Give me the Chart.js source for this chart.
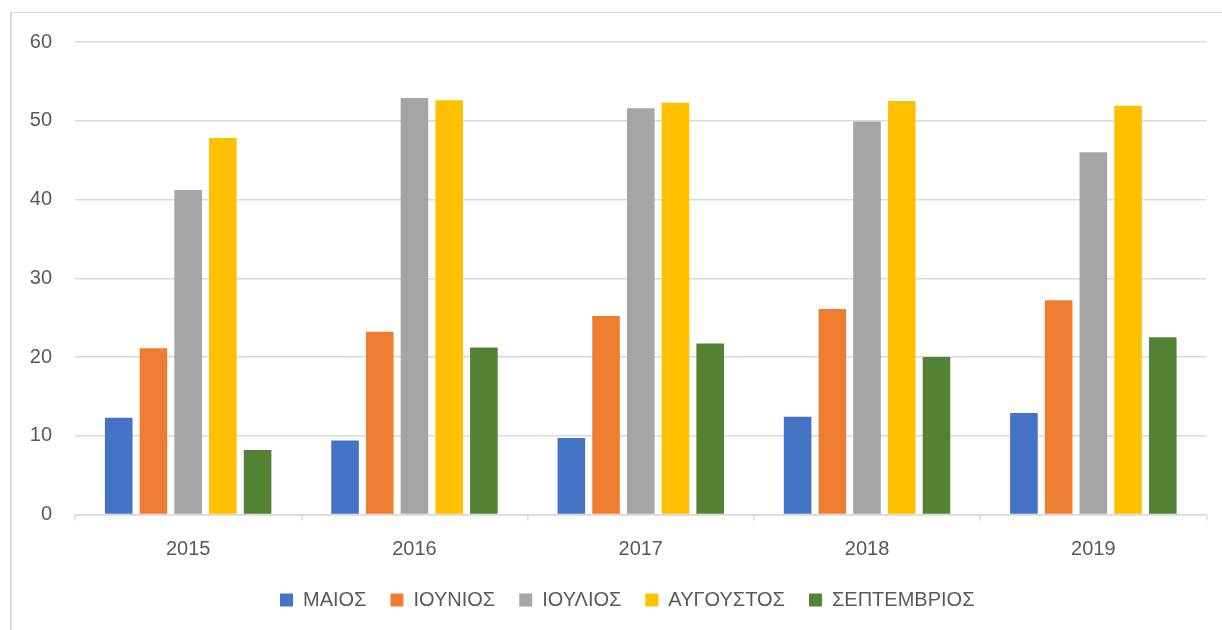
<!DOCTYPE html>
<html lang="el">
<head>
    <meta charset="UTF-8">
    <title>Μήνες ανά έτος</title>
    <script src="https://cdn.jsdelivr.net/npm/chart.js"></script>
    <style>
        html, body { margin: 0; padding: 0; background: #ffffff; }
        #chart-container { position: relative; width: 1222px; height: 630px; }
        /* light frame of the original chart box, only top and left show */
        #frame {
            position: absolute; left: 10px; top: 12px; right: -10px; bottom: -10px;
            border-left: 2px solid #d9d9d9; border-top: 1.5px solid #d9d9d9;
            pointer-events: none;
        }
    </style>
</head>
<body>
    <div id="chart-container">
        <canvas id="months-chart"></canvas>
        <div id="frame"></div>
    </div>

    <script>
        const years = ['2015', '2016', '2017', '2018', '2019'];
        const monthNames = ['ΜΑΙΟΣ', 'ΙΟΥΝΙΟΣ', 'ΙΟΥΛΙΟΣ', 'ΑΥΓΟΥΣΤΟΣ', 'ΣΕΠΤΕΜΒΡΙΟΣ'];
        const monthColors = ['#4472C4', '#ED7D31', '#A5A5A5', '#FFC000', '#548235'];

        const may = [12.3, 9.4, 9.7, 12.4, 12.9];
        const june = [21.1, 23.2, 25.2, 26.1, 27.2];
        const july = [41.2, 52.9, 51.6, 49.9, 46.0];
        const august = [47.8, 52.6, 52.3, 52.5, 51.9];
        const september = [8.2, 21.2, 21.7, 20.0, 22.5];

        const yTicks = [0, 10, 20, 30, 40, 50, 60];

        const seriesValues = [may, june, july, august, september];
        const textColor = '#595959';
        const gridColor = '#d9d9d9';

        Chart.defaults.font.family = '"Liberation Sans", Arial, sans-serif';
        Chart.defaults.font.size = 20;
        Chart.defaults.color = textColor;

        // the original legend sits a bit right of the canvas centre
        const legendShift = {
            id: 'legendShift',
            afterUpdate(chart) {
                const legend = chart.legend;
                if (!legend) return;
                legend.left += 24;
                legend.right += 24;
                legend.adjustHitBoxes();
            }
        };

        const ctx = document.getElementById('months-chart').getContext('2d');
        const chart = new Chart(ctx, {
            type: 'bar',
            data: {
                labels: years,
                datasets: monthNames.map((name, i) => ({
                    label: name,
                    data: seriesValues[i],
                    backgroundColor: monthColors[i],
                    borderWidth: 0,
                    categoryPercentage: 0.767,
                    barPercentage: 0.795
                }))
            },
            options: {
                responsive: true,
                maintainAspectRatio: false,
                animation: false,
                layout: {
                    padding: { top: 42, right: 15.5, bottom: 10, left: 0 }
                },
                scales: {
                    x: {
                        grid: {
                            offset: true,
                            drawOnChartArea: false,
                            drawTicks: true,
                            tickLength: 6,
                            color: gridColor,
                            lineWidth: 1.5
                        },
                        border: { color: gridColor, width: 1.5 },
                        ticks: { padding: 16.5, color: textColor, font: { size: 20 } },
                        afterFit: (scale) => { scale.height = 51.5; }
                    },
                    y: {
                        min: 0,
                        max: 60,
                        afterBuildTicks: (scale) => {
                            scale.ticks = yTicks.map(v => ({ value: v }));
                        },
                        grid: { color: gridColor, lineWidth: 1.5, drawTicks: false },
                        border: { display: false },
                        ticks: { padding: 23, color: textColor, font: { size: 20 } },
                        afterFit: (scale) => { scale.width = 75; }
                    }
                },
                plugins: {
                    legend: {
                        position: 'bottom',
                        labels: {
                            boxWidth: 13,
                            boxHeight: 13,
                            padding: 24,
                            color: textColor,
                            font: { size: 20 }
                        }
                    },
                    tooltip: { enabled: false }
                }
            },
            plugins: [legendShift]
        });
    </script>
</body>
</html>
